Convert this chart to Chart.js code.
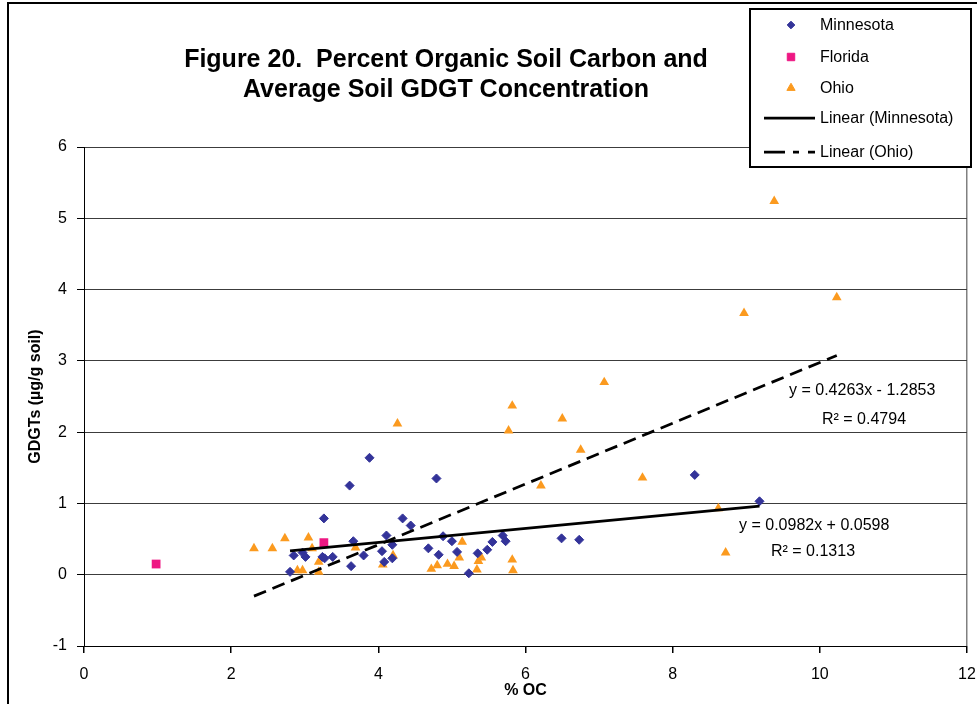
<!DOCTYPE html>
<html>
<head>
<meta charset="utf-8">
<script src="https://cdn.jsdelivr.net/npm/chart.js@4.4.0/dist/chart.umd.min.js"></script>
<style>
  html, body { margin: 0; padding: 0; background: #fff; }
  #wrap { width: 977px; height: 704px; }
</style>
</head>
<body>
<div id="wrap"><canvas id="ocChart" width="977" height="704"></canvas></div>
<script>
// % organic carbon vs. GDGT concentration, per site
const mnX = [2.80, 2.85, 2.97, 3.01, 3.24, 3.27, 3.26, 3.38, 3.61, 3.63, 3.66, 3.80, 3.88, 4.05, 4.08, 4.11, 4.19, 4.19,
             4.33, 4.44, 4.68, 4.79, 4.82, 4.88, 5.00, 5.07, 5.23, 5.35, 5.48, 5.55, 5.69, 5.73, 6.49, 6.73, 8.30, 9.18];
const mnY = [0.04, 0.27, 0.31, 0.25, 0.25, 0.23, 0.79, 0.25, 1.25, 0.12, 0.47, 0.27, 1.64, 0.33, 0.18, 0.55, 0.42, 0.23,
             0.79, 0.69, 0.37, 1.35, 0.28, 0.54, 0.47, 0.32, 0.02, 0.30, 0.35, 0.46, 0.55, 0.47, 0.51, 0.49, 1.40, 1.03];

const flX = [0.98, 3.26];
const flY = [0.15, 0.45];

const ohX = [2.31, 2.56, 2.73, 2.90, 2.97, 3.05, 3.10, 3.19, 3.19, 3.69, 4.06, 4.20, 4.26, 4.72, 4.80, 4.94, 5.03, 5.10,
             5.14, 5.34, 5.36, 5.40, 5.77, 5.82, 5.82, 5.83, 6.21, 6.50, 6.75, 7.07, 7.59, 8.62, 8.72, 8.97, 9.38, 10.23];
const ohY = [0.37, 0.37, 0.51, 0.06, 0.06, 0.52, 0.37, 0.18, 0.04, 0.38, 0.14, 0.27, 2.12, 0.08, 0.13, 0.15, 0.12, 0.24,
             0.46, 0.07, 0.19, 0.24, 2.02, 2.37, 0.21, 0.06, 1.25, 2.19, 1.75, 2.70, 1.36, 0.93, 0.31, 3.67, 5.24, 3.89];

// linear fits: [slope, intercept], plus R squared
const mnFit = [0.0982, 0.0598];
const ohFit = [0.4263, -1.2853];
const mnR2 = 0.1313;
const ohR2 = 0.4794;

const xTicks = [0, 2, 4, 6, 8, 10, 12];
const yTicks = [-1, 0, 1, 2, 3, 4, 5, 6];
const titleLines = ['Figure 20.  Percent Organic Soil Carbon and', 'Average Soil GDGT Concentration'];
const legendNames = ['Minnesota', 'Florida', 'Ohio', 'Linear (Minnesota)', 'Linear (Ohio)'];

const FONT = "'Liberation Sans', Arial, Helvetica, sans-serif";
const MN_COLOR = '#333399';
const FL_COLOR = '#ee1783';
const OH_COLOR = '#fb9a1f';
const OH_DASH = [13, 7];

Chart.defaults.font.family = FONT;
Chart.defaults.color = '#000';

function pts(xs, ys) {
    return xs.map((x, i) => ({ x: x, y: ys[i] }));
}

// trendline spans the series' own x range
function fitLine(xs, fit) {
    const lo = Math.min(...xs), hi = Math.max(...xs);
    return [{ x: lo, y: fit[0] * lo + fit[1] }, { x: hi, y: fit[0] * hi + fit[1] }];
}

function eqText(fit) {
    const sign = fit[1] < 0 ? ' - ' : ' + ';
    return 'y = ' + fit[0].toFixed(4) + 'x' + sign + Math.abs(fit[1]).toFixed(4);
}

const markers = [
    { pointStyle: 'rectRot', radius: 4.5, color: MN_COLOR },
    { pointStyle: 'rect', radius: 6.2, color: FL_COLOR },
    { pointStyle: 'triangle', radius: 5.6, color: OH_COLOR }
];

// title, legend box, equations and the outer frame
const decorations = {
    id: 'decorations',
    afterDraw(chart) {
        const ctx = chart.ctx;
        ctx.save();

        ctx.strokeStyle = '#000';
        ctx.lineWidth = 2;
        ctx.strokeRect(8, 3, 1000, 760);

        ctx.fillStyle = '#000';
        ctx.font = 'bold 25px ' + FONT;
        ctx.textAlign = 'center';
        ctx.textBaseline = 'middle';
        ctx.fillText(titleLines[0], 446, 60);
        ctx.fillText(titleLines[1], 446, 90);

        ctx.font = '16px ' + FONT;
        ctx.textAlign = 'left';
        ctx.fillText(eqText(ohFit), 789, 391);
        ctx.fillText('R\u00b2 = ' + ohR2.toFixed(4), 822, 420);
        ctx.fillText(eqText(mnFit), 739, 526);
        ctx.fillText('R\u00b2 = ' + mnR2.toFixed(4), 771, 552);

        // legend
        ctx.fillStyle = '#fff';
        ctx.fillRect(750, 9, 221, 158);
        ctx.strokeStyle = '#000';
        ctx.lineWidth = 2;
        ctx.strokeRect(750, 9, 221, 158);

        const rowY = [25, 57, 88, 118, 152];
        markers.forEach((m, i) => {
            ctx.fillStyle = m.color;
            ctx.strokeStyle = m.color;
            ctx.lineWidth = 1;
            Chart.helpers.drawPoint(ctx, { pointStyle: m.pointStyle, radius: m.radius * 0.85, rotation: 0, borderWidth: 1 }, 791, rowY[i]);
        });

        ctx.strokeStyle = '#000';
        ctx.lineWidth = 2.75;
        ctx.beginPath();
        ctx.moveTo(764, rowY[3]);
        ctx.lineTo(815, rowY[3]);
        ctx.stroke();
        ctx.setLineDash([21, 8, 6, 9, 7]);
        ctx.beginPath();
        ctx.moveTo(764, rowY[4]);
        ctx.lineTo(815, rowY[4]);
        ctx.stroke();
        ctx.setLineDash([]);

        ctx.fillStyle = '#000';
        ctx.font = '16px ' + FONT;
        legendNames.forEach((name, i) => ctx.fillText(name, 820, rowY[i] + 1));

        ctx.restore();
    }
};

new Chart(document.getElementById('ocChart'), {
    type: 'scatter',
    data: {
        datasets: [
            {
                label: 'Linear (Minnesota)', type: 'line', data: fitLine(mnX, mnFit), order: 0,
                borderColor: '#000', borderWidth: 2.75, pointRadius: 0, fill: false
            },
            {
                label: 'Linear (Ohio)', type: 'line', data: fitLine(ohX, ohFit), order: 0,
                borderColor: '#000', borderWidth: 2.75, borderDash: OH_DASH, pointRadius: 0, fill: false
            },
            {
                label: 'Minnesota', data: pts(mnX, mnY), order: 1,
                pointStyle: markers[0].pointStyle, pointRadius: markers[0].radius,
                backgroundColor: MN_COLOR, borderColor: MN_COLOR, pointBorderWidth: 1
            },
            {
                label: 'Florida', data: pts(flX, flY), order: 1,
                pointStyle: markers[1].pointStyle, pointRadius: markers[1].radius,
                backgroundColor: FL_COLOR, borderColor: FL_COLOR, pointBorderWidth: 0
            },
            {
                label: 'Ohio', data: pts(ohX, ohY), order: 1,
                pointStyle: markers[2].pointStyle, pointRadius: markers[2].radius,
                backgroundColor: OH_COLOR, borderColor: OH_COLOR, pointBorderWidth: 0
            }
        ]
    },
    options: {
        responsive: false,
        animation: false,
        devicePixelRatio: 1,
        layout: { padding: { left: 0, top: 147, right: 10, bottom: 0 } },
        plugins: {
            legend: { display: false },
            tooltip: { enabled: false },
            title: { display: false }
        },
        scales: {
            x: {
                type: 'linear',
                min: xTicks[0],
                max: xTicks[xTicks.length - 1],
                afterBuildTicks: s => { s.ticks = xTicks.map(v => ({ value: v })); },
                afterFit: s => { s.height = 58; s.paddingLeft = 0; s.paddingRight = 0; },
                ticks: { font: { size: 16 }, color: '#000', padding: 12 },
                grid: {
                    drawOnChartArea: true,
                    color: c => (c.tick && c.tick.value === 12 ? '#808080' : 'rgba(0,0,0,0)'),
                    lineWidth: 1.5,
                    tickColor: '#000',
                    tickLength: 7
                },
                border: { color: '#000', width: 1 },
                title: {
                    display: true, text: '% OC',
                    font: { size: 16, weight: 'bold' },
                    padding: { top: 0, bottom: 4 }
                }
            },
            y: {
                type: 'linear',
                min: yTicks[0],
                max: yTicks[yTicks.length - 1],
                afterBuildTicks: s => { s.ticks = yTicks.map(v => ({ value: v })); },
                afterFit: s => { s.width = 84; s.paddingTop = 0; s.paddingBottom = 0; },
                ticks: { font: { size: 16 }, color: '#000', padding: 10 },
                grid: {
                    color: '#3c3c3c',
                    lineWidth: 1,
                    tickColor: '#000',
                    tickLength: 7
                },
                border: { color: '#000', width: 1 },
                title: {
                    display: true, text: 'GDGTs (\u00b5g/g soil)',
                    font: { size: 16, weight: 'bold' },
                    padding: { top: 26, bottom: 0 }
                }
            }
        }
    },
    plugins: [decorations]
});
</script>
</body>
</html>
